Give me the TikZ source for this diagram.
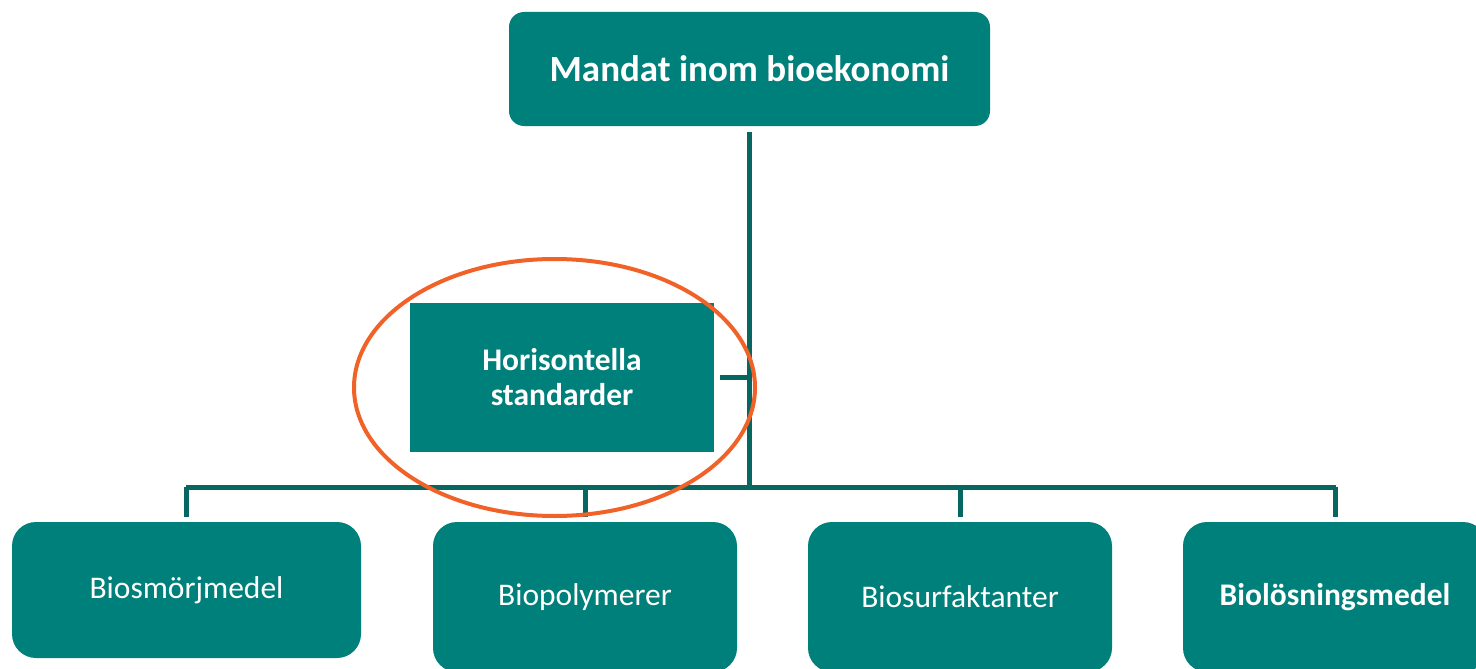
\documentclass[tikz,border=0pt]{standalone}
\usepackage{fontspec}
\setmainfont{Carlito}
\usetikzlibrary{shapes.geometric}
\definecolor{boxteal}{RGB}{0,128,122}
\definecolor{lineteal}{RGB}{8,102,96}
\definecolor{ring}{RGB}{240,98,40}
\tikzset{
  conn/.style={draw=lineteal, line width=5pt},
  tealbox/.style={fill=boxteal, text=white, inner sep=0pt, align=center},
  topbox/.style={tealbox, rounded corners=15pt, minimum width=481pt, minimum height=114pt, font=\fontsize{37}{44}\selectfont\bfseries},
  sqbox/.style={tealbox, minimum width=304pt, minimum height=149pt, font=\fontsize{31.5}{35}\selectfont\bfseries},
  leafbox/.style={tealbox, rounded corners=24pt, minimum height=150pt, font=\fontsize{31.5}{36}\selectfont},
}
\begin{document}
\begin{tikzpicture}[x=1pt, y=-1pt]
\useasboundingbox (0,0) rectangle (1476,669);
\clip (0,0) rectangle (1476,669);
\node[topbox] (top) at (749.5,69) {Mandat inom bioekonomi};
\node[sqbox] (hs) at (562,377) {Horisontella\\standarder};
\node[leafbox, minimum width=349pt, minimum height=136pt] (b1) at (186.5,590) {Biosmörjmedel};
\node[leafbox, minimum width=304pt] (b2) at (585,597) {Biopolymerer};
\node[leafbox, minimum width=304pt] (b3) at (960,597) {Biosurfaktanter};
\node[leafbox, minimum width=304pt, font=\fontsize{31.5}{36}\selectfont\bfseries] (b4) at (1335,597) {Biolösningsmedel};
\coordinate (busL) at (186,487);
\coordinate (busR) at (1336,487);
\coordinate (vbot) at (749.5,489.5);
\draw[conn] ([yshift=-6pt]top.south) -- (vbot);
\draw[conn] ([xshift=6pt]hs.east) -- (hs.east -| vbot);
\draw[conn] (busL) -- (busR);
\foreach \b in {b1,b2,b3,b4}{
  \draw[conn] (\b.north |- busL) -- ([yshift=5pt]\b.north);
}
\node[draw=ring, line width=4pt, ellipse, minimum width=401pt, minimum height=257pt, inner sep=0pt] (ring) at (554.5,387.5) {};
\end{tikzpicture}
\end{document}
